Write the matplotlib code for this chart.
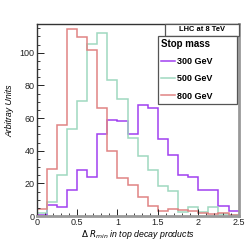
import matplotlib
matplotlib.use("Agg")
import matplotlib.pyplot as plt
from matplotlib.patches import Rectangle
import numpy as np

plt.rcParams['font.family'] = ['Liberation Sans', 'DejaVu Sans']

# bin edges: 20 bins of 0.125 in Delta R_min
edges = np.linspace(0, 2.5, 21)

m300 = [0.5, 7, 5.3, 16, 28, 24, 50, 59, 58.4, 50, 68, 66, 47, 37.3, 25, 23.7, 16, 16, 6, 3.2]
m500 = [2, 8.5, 25, 53, 70.4, 105.2, 112.2, 83, 71.6, 48, 37, 28, 18.4, 15.1, 2.4, 5.4, 2.3, 5.4, 1.4, 0.5]
m800 = [4, 29, 56, 114.6, 109.7, 101.8, 66.4, 39.8, 23, 19.2, 11.8, 6.3, 3.2, 4, 3.5, 2.8, 1.8, 1.5, 2, 0.8]

labels = ['300 GeV', '500 GeV', '800 GeV']
colors = ['#a040f0', '#9fd8c0', '#e08484']

fig = plt.figure(figsize=(2.52, 2.4), dpi=100)
ax = fig.add_axes([0.1456, 0.1, 0.8016, 0.8])

for vals, c, lab in zip([m300, m500, m800], colors, labels):
    ax.stairs(vals, edges, color=c, lw=1.1, label=lab, baseline=None)

ax.set_xlim(0, 2.5)
ax.set_ylim(0, 117.6)
ax.set_xticks(np.arange(0, 2.51, 0.5))
ax.set_xticklabels(['0', '0.5', '1', '1.5', '2', '2.5'])
ax.set_xticks(np.arange(0, 2.51, 0.1), minor=True)
ax.set_yticks(np.arange(0, 101, 20))
ax.set_yticks(np.arange(0, 117, 5), minor=True)
ax.tick_params(which='both', direction='in', labelsize=6.5, pad=1.5, colors='#222222')
ax.tick_params(which='major', length=5, width=0.7)
ax.tick_params(which='minor', length=2.5, width=0.6)

for s in ['left', 'top']:
    ax.spines[s].set_color('#333333')
    ax.spines[s].set_linewidth(1.0)
for s in ['right', 'bottom']:
    ax.spines[s].set_color('#999999')
    ax.spines[s].set_linewidth(2.0)

ax.set_xlabel(r'$\Delta$ $R_{min}$ in top decay products', fontsize=6.3, style='italic', labelpad=1)
ax.set_ylabel('Arbitray Units', fontsize=6.3, style='italic', labelpad=4, y=0.55)

# header box
ax.add_patch(Rectangle((0.635, 0.9375), 0.365, 0.0625, transform=ax.transAxes,
                       facecolor='white', edgecolor='#555555', lw=0.9, clip_on=False, zorder=5))
ax.text(0.82, 0.969, 'LHC at 8 TeV', transform=ax.transAxes, ha='center', va='center',
        fontsize=5.4, fontweight='bold', zorder=6)

leg = ax.legend(loc='upper left', bbox_to_anchor=(0.600, 0.589, 0.392, 0.3485),
                bbox_transform=ax.transAxes, mode='expand', borderaxespad=0,
                title='Stop mass', prop={'size': 6.5, 'weight': 'bold'},
                handlelength=1.6, handletextpad=0.2,
                labelspacing=0.9, borderpad=0.35, fancybox=False, framealpha=1,
                edgecolor='#555555', alignment='left')
leg.get_title().set_fontweight('bold')
leg.get_title().set_fontsize(7)
leg.get_frame().set_linewidth(0.9)
leg.set_zorder(6)

fig.savefig('out.png', dpi=100)
